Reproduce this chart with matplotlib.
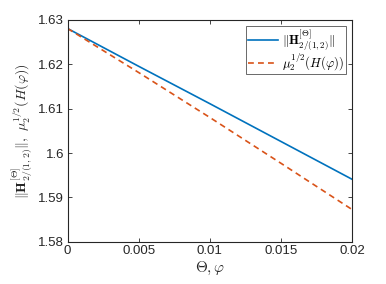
import matplotlib
matplotlib.use("Agg")
import matplotlib.pyplot as plt

theta = [0.0, 0.005, 0.01, 0.015, 0.02]
norm_H = [1.6280, 1.6195, 1.6111, 1.6026, 1.5941]
mu_H = [1.6280, 1.6181, 1.6080, 1.5977, 1.5873]

xticks = [0, 0.005, 0.01, 0.015, 0.02]
xticklabels = ["0", "0.005", "0.01", "0.015", "0.02"]
yticks = [1.58, 1.59, 1.6, 1.61, 1.62, 1.63]
yticklabels = ["1.58", "1.59", "1.6", "1.61", "1.62", "1.63"]

plt.rcParams['font.family'] = ['Liberation Sans', 'DejaVu Sans']
plt.rcParams['mathtext.fontset'] = 'cm'

fig = plt.figure(figsize=(3.86, 2.84), dpi=100)
ax = fig.add_axes([0.175, 0.148, 0.737, 0.783])

ax.plot(theta, norm_H, color='#0072BD', lw=1.2,
        label=r'$\|\mathbf{H}^{[\Theta]}_{2/(1,2)}\|$')
ax.plot(theta, mu_H, color='#D95319', lw=1.2, ls=(0, (3.5, 2.5)),
        label=r'$\mu_2^{1/2}(H(\varphi))$')

ax.set_xlim(0, 0.02)
ax.set_ylim(1.58, 1.63)
ax.set_xticks(xticks)
ax.set_xticklabels(xticklabels)
ax.set_yticks(yticks)
ax.set_yticklabels(yticklabels)
ax.tick_params(direction='in', top=True, right=True, labelsize=9.5,
               length=3, width=0.6, colors='#262626', labelcolor='#262626', pad=2.5)
for s in ax.spines.values():
    s.set_linewidth(0.8)
    s.set_color('#262626')

ax.set_xlabel(r'$\Theta, \varphi$', fontsize=11, labelpad=1.5, color='#262626')
ax.set_ylabel(r'$\|\mathbf{H}^{[\Theta]}_{2/(1,2)}\|,\ \mu_2^{1/2}(H(\varphi))$',
              fontsize=10, labelpad=3, color='#262626')

leg = ax.legend(loc='upper right', fontsize=9.2, frameon=True, fancybox=False,
                borderpad=0.1, handlelength=2.4, handletextpad=0.3,
                labelspacing=0.0, borderaxespad=0.5)
leg.get_frame().set_edgecolor('#262626')
leg.get_frame().set_linewidth(0.6)

fig.savefig('out.png', dpi=100)
